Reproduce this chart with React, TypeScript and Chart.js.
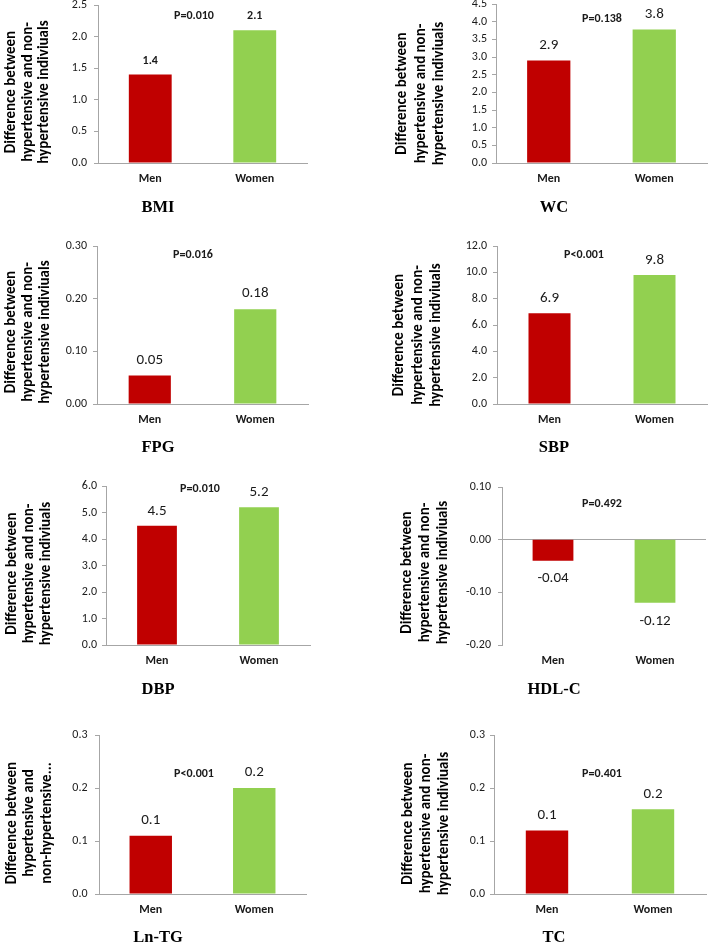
import React, { useEffect, useRef } from "react";
import { Chart, registerables } from "chart.js";

Chart.register(...registerables);

// ---------- data ----------
const categories = ["Men", "Women"];

const bmiValues = [1.4, 2.1];
const bmiLabels = ["1.4", "2.1"];
const wcValues = [2.9, 3.78];
const wcLabels = ["2.9", "3.8"];
const fpgValues = [0.054, 0.18];
const fpgLabels = ["0.05", "0.18"];
const sbpValues = [6.9, 9.8];
const sbpLabels = ["6.9", "9.8"];
const dbpValues = [4.5, 5.2];
const dbpLabels = ["4.5", "5.2"];
const hdlValues = [-0.04, -0.12];
const hdlLabels = ["-0.04", "-0.12"];
const lntgValues = [0.11, 0.2];
const lntgLabels = ["0.1", "0.2"];
const tcValues = [0.12, 0.16];
const tcLabels = ["0.1", "0.2"];

const panelTitles = ["BMI", "WC", "FPG", "SBP", "DBP", "HDL-C", "Ln-TG", "TC"];
const pValues = ["P=0.010", "P=0.138", "P=0.016", "P<0.001", "P=0.010", "P=0.492", "P<0.001", "P=0.401"];
const yAxisMin = [0, 0, 0, 0, 0, -0.2, 0, 0];
const yAxisMax = [2.5, 4.5, 0.3, 12, 6, 0.1, 0.3, 0.3];
const yAxisStep = [0.5, 0.5, 0.1, 2, 1, 0.1, 0.1, 0.1];
const yTickDecimals = [1, 1, 2, 1, 1, 2, 1, 1];

const yTitleStandard = ["Difference between", "hypertensive and non-", "hypertensive indiviuals"];
const yTitleShort = ["Difference between", "hypertensive and", "non-hypertensive..."];

const seriesValues = [bmiValues, wcValues, fpgValues, sbpValues, dbpValues, hdlValues, lntgValues, tcValues];
const seriesLabels = [bmiLabels, wcLabels, fpgLabels, sbpLabels, dbpLabels, hdlLabels, lntgLabels, tcLabels];
const yTitles = [yTitleStandard, yTitleStandard, yTitleStandard, yTitleStandard, yTitleStandard, yTitleStandard, yTitleShort, yTitleStandard];

// ---------- styles / layout ----------
const SANS = "Carlito, Calibri, Lato, sans-serif";
const SERIF = "'Liberation Serif', 'Times New Roman', serif";
const barColors = ["#C00000", "#92D050"];
const axisGrey = "#a6a6a6";
const textColor = "#1a1a1a";

type PanelLayout = {
  box: [number, number, number, number];
  area: [number, number, number, number];
  barPct: number;
  tickPad: number;
  catPad: number;
  valueFont: string;
  valueOffset: number;
  pPos: [number, number];
  titlePos: [number, number];
  yTitleBaselines: number[];
  yTitleCenterY: number;
};

const layouts: PanelLayout[] = [
  { box: [0, 0, 354, 230], area: [98, 5, 307, 163], barPct: 0.41, tickPad: 7, catPad: 9, valueFont: `bold 12px ${SANS}`, valueOffset: 14, pPos: [194, 16], titlePos: [158, 208], yTitleBaselines: [15, 31.5, 48], yTitleCenterY: 92 },
  { box: [354, 0, 355, 230], area: [142, 4, 353, 163], barPct: 0.41, tickPad: 5, catPad: 9, valueFont: `15px ${SANS}`, valueOffset: 15, pPos: [248, 19], titlePos: [200, 208], yTitleBaselines: [51.5, 70.5, 89], yTitleCenterY: 93.5 },
  { box: [0, 230, 354, 230], area: [97, 16, 308, 174], barPct: 0.4, tickPad: 6, catPad: 9, valueFont: `15px ${SANS}`, valueOffset: 15.5, pPos: [193, 25], titlePos: [158, 218], yTitleBaselines: [15, 32, 49], yTitleCenterY: 102 },
  { box: [354, 230, 355, 230], area: [143, 16, 353, 174], barPct: 0.4, tickPad: 6, catPad: 9, valueFont: `15px ${SANS}`, valueOffset: 15, pPos: [230, 25], titlePos: [200, 218], yTitleBaselines: [49, 68, 86], yTitleCenterY: 105 },
  { box: [0, 460, 354, 240], area: [106, 26, 310, 185], barPct: 0.39, tickPad: 5, catPad: 9, valueFont: `15px ${SANS}`, valueOffset: 14.5, pPos: [200, 29], titlePos: [158, 230], yTitleBaselines: [16, 33, 50], yTitleCenterY: 113.5 },
  { box: [354, 460, 355, 240], area: [148, 27, 352, 185], barPct: 0.4, tickPad: 7, catPad: 9, valueFont: `15px ${SANS}`, valueOffset: 18, pPos: [248, 44], titlePos: [200, 230], yTitleBaselines: [57, 75, 93], yTitleCenterY: 112.5 },
  { box: [0, 700, 354, 244], area: [99, 35, 306, 194], barPct: 0.41, tickPad: 7.5, catPad: 9, valueFont: `15px ${SANS}`, valueOffset: 15.3, pPos: [194, 74], titlePos: [158, 238], yTitleBaselines: [16, 33, 51], yTitleCenterY: 123 },
  { box: [354, 700, 355, 244], area: [140, 35, 352, 194], barPct: 0.4, tickPad: 5, catPad: 9, valueFont: `15px ${SANS}`, valueOffset: 14.7, pPos: [248, 74], titlePos: [200, 238], yTitleBaselines: [58, 76, 94], yTitleCenterY: 123.5 },
];

function Panel({ idx }: { idx: number }) {
  const ref = useRef<HTMLCanvasElement>(null);

  useEffect(() => {
    if (!ref.current) return;
    const L = layouts[idx];
    const [, , bw, bh] = L.box;
    const [al, at, ar, ab] = L.area;
    const values = seriesValues[idx];
    const labels = seriesLabels[idx];
    const decimals = yTickDecimals[idx];
    const hasNeg = yAxisMin[idx] < 0;

    const annotations = {
      id: "annotations",
      afterDatasetsDraw(chart: any) {
        const ctx = chart.ctx as CanvasRenderingContext2D;
        const meta = chart.getDatasetMeta(0);
        ctx.save();
        ctx.fillStyle = textColor;
        ctx.textAlign = "center";
        ctx.textBaseline = "middle";
        ctx.font = L.valueFont;
        meta.data.forEach((el: any, i: number) => {
          const { x, y } = el.getProps(["x", "y"], true);
          const yy = values[i] >= 0 ? y - L.valueOffset : y + L.valueOffset;
          ctx.fillText(labels[i], x, yy);
        });
        ctx.font = `bold 12px ${SANS}`;
        ctx.fillText(pValues[idx], L.pPos[0], L.pPos[1]);
        ctx.font = `bold 16.5px ${SERIF}`;
        ctx.fillStyle = "#000";
        ctx.fillText(panelTitles[idx], L.titlePos[0], L.titlePos[1]);
        ctx.font = `bold 15px ${SANS}`;
        ctx.textBaseline = "alphabetic";
        yTitles[idx].forEach((line, i) => {
          ctx.save();
          ctx.translate(L.yTitleBaselines[i], L.yTitleCenterY);
          ctx.rotate(-Math.PI / 2);
          ctx.fillText(line, 0, 0);
          ctx.restore();
        });
        ctx.restore();
      },
    };

    const chart = new Chart(ref.current, {
      type: "bar",
      data: {
        labels: categories,
        datasets: [
          {
            data: values,
            backgroundColor: barColors,
            borderWidth: 0,
            barPercentage: L.barPct,
            categoryPercentage: 1,
          },
        ],
      },
      options: {
        animation: false,
        responsive: true,
        maintainAspectRatio: false,
        layout: { padding: { left: 0, top: at, right: bw - ar, bottom: 0 } },
        plugins: {
          legend: { display: false },
          tooltip: { enabled: false },
          title: { display: false },
        },
        scales: {
          x: {
            type: "category",
            offset: true,
            grid: { display: false, drawTicks: false },
            border: { display: !hasNeg, color: axisGrey, width: 1 },
            ticks: {
              padding: L.catPad,
              color: textColor,
              font: { family: SANS, size: 12, weight: "bold" },
            },
            afterFit: (s: any) => {
              s.height = bh - ab;
              s.paddingLeft = 0;
              s.paddingRight = 0;
            },
          },
          y: {
            min: yAxisMin[idx],
            max: yAxisMax[idx],
            grid: {
              drawOnChartArea: hasNeg,
              drawTicks: true,
              tickLength: 4,
              tickColor: axisGrey,
              color: (c: any) =>
                c.tick && Math.abs(c.tick.value) < 1e-9 ? axisGrey : "rgba(0,0,0,0)",
              lineWidth: 1,
            },
            border: { display: true, color: axisGrey, width: 1 },
            ticks: {
              stepSize: yAxisStep[idx],
              padding: L.tickPad,
              color: textColor,
              font: { family: SANS, size: 12 },
              callback: (v: any) => Number(v).toFixed(decimals),
            },
            afterFit: (s: any) => {
              s.width = al;
              s.paddingTop = 0;
              s.paddingBottom = 0;
            },
          },
        },
      } as any,
      plugins: [annotations],
    });
    return () => chart.destroy();
  }, [idx]);

  const [bx, by, bw, bh] = layouts[idx].box;
  return (
    <div style={{ position: "absolute", left: bx, top: by, width: bw, height: bh }}>
      <canvas ref={ref} />
    </div>
  );
}

export default function App() {
  return (
    <div style={{ position: "absolute", left: 0, top: 0, width: 709, height: 944, background: "#fff", overflow: "hidden" }}>
      {layouts.map((_, i) => (
        <Panel key={i} idx={i} />
      ))}
    </div>
  );
}
